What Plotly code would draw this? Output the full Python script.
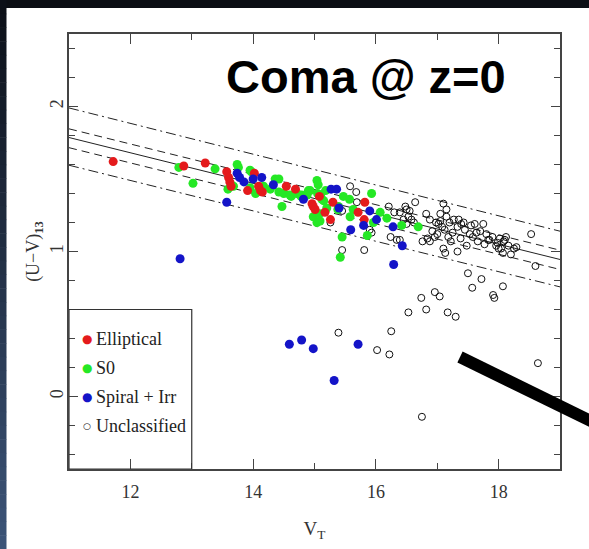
import plotly.graph_objects as go

# ---------------- data ----------------
ell_x = [11.72, 12.87, 13.22, 13.57, 13.60, 13.62, 13.64, 13.91, 14.02, 14.09, 14.12, 14.15,
         14.54, 14.69, 14.96, 14.98, 15.01, 15.08, 15.17, 15.30, 15.26, 15.71, 15.82, 15.81]
ell_y = [1.62, 1.59, 1.61, 1.55, 1.51, 1.48, 1.45, 1.42, 1.54, 1.45, 1.42, 1.41,
         1.45, 1.43, 1.33, 1.31, 1.29, 1.38, 1.27, 1.34, 1.22, 1.27, 1.34, 1.22]

s0_x = [12.79, 13.02, 13.38, 13.59, 13.64, 13.68, 13.74, 13.76, 13.95, 13.97, 13.95, 14.04,
        14.17, 14.28, 14.36, 14.42, 14.42, 14.47, 14.50, 14.60, 14.62, 14.71, 14.78, 14.79,
        14.88, 14.90, 14.93, 14.98, 15.04, 15.06, 15.05, 15.04, 15.09, 15.08, 15.10, 15.12,
        15.15, 15.18, 15.20, 15.38, 15.39, 15.47, 15.58, 15.57, 15.63, 15.45, 15.42, 15.86,
        15.93, 15.96, 16.07, 16.18, 16.42, 16.69]
s0_y = [1.58, 1.47, 1.57, 1.43, 1.46, 1.45, 1.60, 1.58, 1.56, 1.55, 1.44, 1.40,
        1.45, 1.43, 1.50, 1.50, 1.41, 1.31, 1.40, 1.39, 1.38, 1.40, 1.38, 1.39,
        1.39, 1.42, 1.42, 1.24, 1.49, 1.46, 1.40, 1.20, 1.21, 1.26, 1.39, 1.36,
        1.35, 1.42, 1.30, 1.29, 1.31, 1.38, 1.24, 1.36, 1.29, 1.10, 0.96, 1.11,
        1.40, 1.20, 1.27, 1.23, 1.18, 1.17]

sp_x = [12.81, 13.57, 13.74, 13.78, 13.85, 14.00, 14.14, 14.33, 14.82, 15.27, 15.36, 15.40,
        15.59, 15.80, 15.90, 16.01, 16.28, 16.43, 16.29, 14.59, 14.79, 14.98, 15.71, 15.32]
sp_y = [0.95, 1.34, 1.54, 1.51, 1.48, 1.50, 1.51, 1.46, 1.36, 1.43, 1.43, 1.30,
        1.15, 1.18, 1.28, 1.22, 1.17, 1.04, 0.91, 0.36, 0.39, 0.33, 0.36, 0.11]

un_x = [15.58, 15.68, 15.26, 15.45, 15.69, 15.45, 15.81, 15.90, 15.93, 16.21, 16.30, 16.24,
        16.34, 16.39, 16.48, 16.50, 16.39, 16.53, 16.64, 16.50, 16.45, 16.58, 16.55, 16.62,
        16.82, 16.76, 16.84, 16.88, 16.88, 16.96, 16.98, 17.02, 17.05, 17.08, 17.10, 17.15,
        17.10, 17.13, 17.22, 17.20, 17.27, 17.33, 17.33, 17.35, 17.39, 17.43, 17.48, 17.53,
        17.58, 17.61, 17.66, 17.70, 17.75, 17.77, 17.83, 17.85, 17.96, 18.02, 18.04, 18.07,
        18.08, 18.10, 18.16, 18.20, 18.25, 18.29, 18.53, 18.60, 16.92, 17.00, 17.12, 17.18,
        17.25, 17.45, 17.38, 17.55, 17.64, 17.80, 17.90, 17.98, 18.12, 18.00, 17.15, 17.05,
        17.50, 17.72, 17.57, 18.07, 17.91, 17.93, 16.96, 17.04, 16.74, 16.82, 16.53, 17.17,
        17.30, 16.25, 15.39, 16.02, 16.22, 18.64, 16.75]
un_y = [1.45, 1.41, 1.20, 1.28, 1.34, 1.01, 1.01, 1.15, 1.13, 1.31, 1.27, 1.10,
        1.08, 1.08, 1.31, 1.29, 1.27, 1.24, 1.34, 1.19, 1.22, 1.22, 1.28, 1.20,
        1.26, 1.07, 1.09, 1.22, 1.07, 1.10, 1.20, 1.19, 1.21, 1.17, 1.33, 1.29,
        1.02, 0.99, 1.07, 1.20, 1.22, 1.17, 1.00, 1.22, 1.19, 1.20, 1.04, 1.12,
        1.10, 1.19, 1.07, 1.14, 1.19, 1.05, 1.08, 1.08, 1.04, 1.09, 1.02, 0.99,
        1.07, 1.08, 1.04, 0.98, 1.02, 1.03, 1.12, 0.90, 1.14, 1.12, 1.15, 1.10,
        1.13, 1.15, 1.09, 1.18, 1.13, 1.12, 1.10, 1.06, 1.10, 1.02, 1.24, 1.26,
        0.85, 0.81, 0.75, 0.76, 0.70, 0.68, 0.72, 0.69, 0.68, 0.60, 0.58, 0.58,
        0.55, 0.45, 0.44, 0.32, 0.29, 0.23, -0.14]

# fitted relation and its envelopes (value at V=11 and V=19)
line_x = [11, 19]
fit_solid = [1.786, 0.945]
fit_dash_hi = [1.846, 1.009]
fit_dash_lo = [1.716, 0.876]
fit_dd_hi = [1.990, 1.140]
fit_dd_lo = [1.595, 0.756]

legend_labels = ["Elliptical", "S0", "Spiral + Irr", "Unclassified"]
legend_ypos = [0.4, 0.2, 0.0, -0.2]

RED, GREEN, BLUE = "#e41a1c", "#25e825", "#1414c8"

# ---------------- layout geometry ----------------
W, H = 589, 549
ML, MR, MT, MB = 69, 29, 34, 80
PW, PH = W - ML - MR, H - MT - MB


def px(x):
    return (x - ML) / PW


def py(y):
    return (H - MB - y) / PH


fig = go.Figure()

lc = "#222222"
for yy, dash in [(fit_dd_hi, "10px,4px,2px,4px"), (fit_dash_hi, "8px,5px"), (fit_solid, "solid"),
                 (fit_dash_lo, "8px,5px"), (fit_dd_lo, "10px,4px,2px,4px")]:
    fig.add_trace(go.Scatter(x=line_x, y=yy, mode="lines",
                             line=dict(color=lc, width=1, dash=dash),
                             showlegend=False, hoverinfo="skip"))

fig.add_trace(go.Scatter(x=un_x, y=un_y, mode="markers", name="Unclassified",
                         marker=dict(symbol="circle-open", size=7, color="#111111",
                                     line=dict(width=1, color="#111111"))))
fig.add_trace(go.Scatter(x=s0_x, y=s0_y, mode="markers", name="S0",
                         marker=dict(size=9, color=GREEN, line=dict(width=0))))
fig.add_trace(go.Scatter(x=ell_x, y=ell_y, mode="markers", name="Elliptical",
                         marker=dict(size=9, color=RED, line=dict(width=0))))
fig.add_trace(go.Scatter(x=sp_x, y=sp_y, mode="markers", name="Spiral + Irr",
                         marker=dict(size=9, color=BLUE, line=dict(width=0))))

shapes = []
# dark slide border (top and left)
shapes.append(dict(type="rect", xref="paper", yref="paper", x0=px(0), x1=px(W), y0=py(8), y1=py(0),
                   fillcolor="#0b0e14", line=dict(width=0), layer="below"))
nb = 40
for i in range(nb):
    t = i / (nb - 1)
    r = int(12 + t * (60 - 12)); g = int(16 + t * (84 - 16)); b = int(24 + t * (120 - 24))
    y0 = H * i / nb
    y1 = H * (i + 1) / nb
    shapes.append(dict(type="rect", xref="paper", yref="paper", x0=px(0), x1=px(6.5),
                       y0=py(y1 + 0.5), y1=py(y0), fillcolor=f"rgb({r},{g},{b})",
                       line=dict(width=0), layer="below"))
# legend box
shapes.append(dict(type="rect", xref="x", yref="y", x0=11, x1=13, y0=-0.5, y1=0.6,
                   line=dict(color="#333333", width=1.2), fillcolor="rgba(0,0,0,0)"))
# thick black pointer bar
shapes.append(dict(type="line", xref="paper", yref="paper", x0=px(460), y0=py(357),
                   x1=px(605), y1=py(428), line=dict(color="black", width=12)))

annotations = []
annotations.append(dict(x=15.84, y=2.205, xref="x", yref="y", text="<b>Coma @ z=0</b>",
                        showarrow=False, font=dict(family="Liberation Sans", size=47, color="black")))
leg_colors = [RED, GREEN, BLUE, None]
for lab, yy, c in zip(legend_labels, legend_ypos, leg_colors):
    annotations.append(dict(x=11.41, y=yy, xref="x", yref="y", text=lab, xanchor="left",
                            showarrow=False, font=dict(family="Liberation Serif", size=18, color="#222")))
    if c is not None:
        annotations.append(dict(x=11.30, y=yy, xref="x", yref="y", text="●", showarrow=False,
                                font=dict(family="DejaVu Sans", size=12, color=c)))
    else:
        annotations.append(dict(x=11.30, y=yy, xref="x", yref="y", text="○", showarrow=False,
                                font=dict(family="DejaVu Sans", size=9, color="#111")))

tickfont = dict(family="Liberation Serif", size=18, color="#333")
fig.update_layout(
    width=W, height=H, margin=dict(l=ML, r=MR, t=MT, b=MB),
    paper_bgcolor="white", plot_bgcolor="white", showlegend=False,
    shapes=shapes, annotations=annotations,
    xaxis=dict(range=[11, 19], tick0=12, dtick=2, ticks="inside", ticklen=10, tickwidth=1,
               tickcolor="#444", showgrid=False, zeroline=False, showline=True, linecolor="#444",
               linewidth=1.5, mirror="ticks", tickfont=tickfont, ticklabelstandoff=6,
               minor=dict(dtick=1, tick0=11, ticks="inside", ticklen=6, tickcolor="#444"),
               title=dict(text="V<sub>T</sub>", font=dict(family="Liberation Serif", size=19, color="#333"),
                          standoff=20)),
    yaxis=dict(range=[-0.5, 2.5], tick0=0, dtick=1, ticks="inside", ticklen=9, tickwidth=1,
               tickcolor="#444", showgrid=False, zeroline=False, showline=True, linecolor="#444",
               linewidth=1.5, mirror="ticks", tickfont=tickfont, tickangle=-90, ticklabelstandoff=-3,
               minor=dict(dtick=0.2, tick0=0, ticks="inside", ticklen=6, tickcolor="#444"),
               title=dict(text="(U−V)<sub><b>13</b></sub>",
                          font=dict(family="Liberation Serif", size=18, color="#333"), standoff=3)),
)

fig.write_html("out.html")
